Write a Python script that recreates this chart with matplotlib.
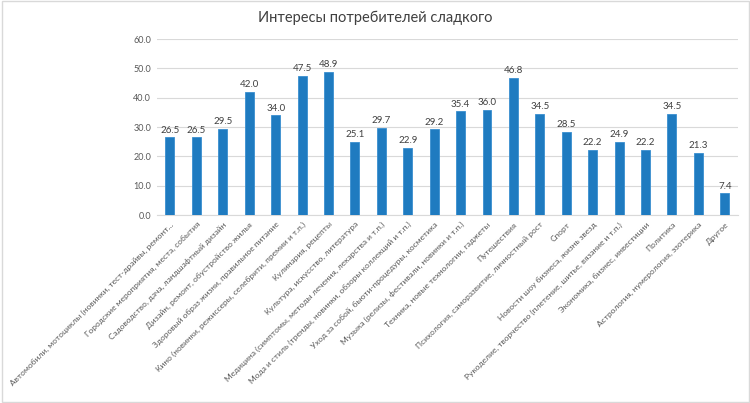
import numpy as np
import matplotlib as mpl
mpl.use('Agg')
import matplotlib.pyplot as plt

plt.rcParams['font.family'] = ['Lato', 'DejaVu Sans']

categories = [
    'Автомобили, мотоциклы (новинки, тест-драйвы, ремонт...',
    'Городские мероприятия, места, события',
    'Садоводство, дача, ландшафтный дизайн',
    'Дизайн, ремонт, обустройство жилья',
    'Здоровый образ жизни, правильное питание',
    'Кино (новинки, режиссеры, селебрити, премии и т.п.)',
    'Кулинария, рецепты',
    'Культура, искусство, литература',
    'Медицина (симптомы, методы лечения, лекарства и т.п.)',
    'Мода и стиль (тренды, новинки, обзоры коллекций и т.п.)',
    'Уход за собой, бьюти-процедуры, косметика',
    'Музыка (релизы, фестивали, новинки и т.п.)',
    'Техника, новые технологии, гаджеты',
    'Путешествия',
    'Психология, саморазвитие, личностный рост',
    'Спорт',
    'Новости шоу бизнеса, жизнь звезд',
    'Рукоделие, творчество (плетение, шитье, вязание и т.п.)',
    'Экономика, бизнес, инвестиции',
    'Политика',
    'Астрология, нумерология, эзотерика',
    'Другое',
]
values = [26.5, 26.5, 29.5, 42.0, 34.0, 47.5, 48.9, 25.1, 29.7, 22.9, 29.2,
          35.4, 36.0, 46.8, 34.5, 28.5, 22.2, 24.9, 22.2, 34.5, 21.3, 7.4]
yticks = [0, 10, 20, 30, 40, 50, 60]

fig = plt.figure(figsize=(7.5, 4.03), dpi=100)
fig.patch.set_facecolor('white')
ax = fig.add_axes([0.209, 0.466, 0.775, 0.437])

x = np.arange(len(values))
ax.bar(x, values, width=0.34, color='#1f7bc0', edgecolor='#3a8fd0', lw=0.6, zorder=3)
for xi, v in zip(x, values):
    ax.text(xi, v + 0.9, f'{v:.1f}', ha='center', va='bottom', fontsize=7, color='#404040')

ax.set_xlim(-0.5, len(values) - 0.5)
ax.set_ylim(0, 60)
ax.set_yticks(yticks)
ax.set_yticklabels([f'{t:.1f}' for t in yticks], fontsize=6.5, color='#595959')
ax.set_xticks(x)
ax.set_xticklabels(categories, rotation=45, ha='right', rotation_mode='anchor',
                   fontsize=6.0, color='#595959')
ax.tick_params(axis='both', length=0, pad=4)
ax.grid(axis='y', color='#d9d9d9', lw=0.8, zorder=0)
for s in ['top', 'right', 'left']:
    ax.spines[s].set_visible(False)
ax.spines['bottom'].set_color('#d9d9d9')

fig.text(0.5, 0.955, 'Интересы потребителей сладкого', ha='center', va='center',
         fontsize=10.5, color='#404040')

fig.add_artist(plt.Rectangle((0.002, 0.003), 0.996, 0.994, transform=fig.transFigure,
                             fill=False, ec='#d9d9d9', lw=1))

fig.savefig('out.png', dpi=100)
